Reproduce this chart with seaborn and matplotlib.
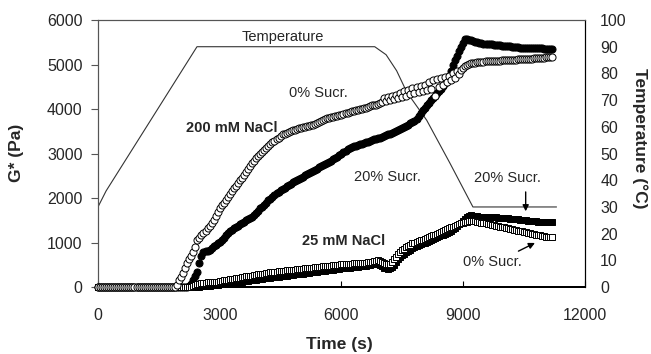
import numpy as np
import pandas as pd
import seaborn as sns
import matplotlib.pyplot as plt

# measurement times (s), one reading every 50 s
time_s = list(range(0, 11250, 50))

# 200 mM NaCl, 0 % sucrose (open circles)
g_200_0 = [0] * 38 + [10, 40] + [
    150, 230, 320, 430, 540, 630, 700, 780, 900, 1050,
    1110, 1170, 1220, 1270, 1320, 1380, 1430, 1510, 1590, 1680,
    1770, 1840, 1900, 1960, 2020, 2090, 2150, 2220, 2280, 2340,
    2400, 2460, 2520, 2590, 2650, 2720, 2780, 2840, 2900, 2950,
    3000, 3040, 3080, 3130, 3170, 3210, 3250, 3290, 3320, 3360,
    3400, 3430, 3450, 3470, 3490, 3510, 3520, 3540, 3550, 3570,
    3580, 3590, 3600, 3610, 3620, 3640, 3650, 3670, 3690, 3710,
    3730, 3750, 3770, 3790, 3800, 3810, 3820, 3840, 3850, 3860,
    3870, 3890, 3900, 3920, 3930, 3950, 3960, 3970, 3980, 3990,
    4000, 4020, 4030, 4050, 4060, 4080, 4090, 4100, 4120, 4130,
    4150, 4250, 4180, 4280, 4200, 4300, 4230, 4320, 4250, 4350,
    4280, 4400, 4300, 4430, 4330, 4480, 4350, 4500, 4380, 4520,
    4400, 4550, 4420, 4600, 4450, 4650, 4300, 4680, 4500, 4700,
    4550, 4720, 4600, 4750, 4650, 4800, 4700, 4850, 4780, 4880,
    4920, 4960, 4990, 5010, 5030, 5040, 5040, 5050, 5050, 5060,
    5060, 5070, 5070, 5080, 5080, 5080, 5080, 5090, 5090, 5100,
    5100, 5100, 5100, 5105, 5110, 5110, 5110, 5115, 5120, 5120,
    5120, 5125, 5130, 5130, 5135, 5140, 5140, 5140, 5145, 5150,
    5155, 5160, 5165, 5170, 5170]

# 200 mM NaCl, 20 % sucrose (filled circles)
g_200_20 = [0] * 44 + [
    0, 20, 60, 150, 250, 340, 540, 700, 780, 800,
    810, 830, 870, 920, 950, 980, 1010, 1060, 1110, 1160,
    1210, 1250, 1280, 1320, 1350, 1380, 1420, 1450, 1470, 1500,
    1520, 1550, 1570, 1620, 1670, 1720, 1770, 1810, 1850, 1900,
    1950, 1990, 2030, 2070, 2110, 2140, 2170, 2200, 2230, 2260,
    2290, 2320, 2350, 2380, 2400, 2430, 2450, 2480, 2510, 2530,
    2560, 2590, 2610, 2640, 2660, 2690, 2710, 2740, 2770, 2790,
    2820, 2840, 2870, 2900, 2930, 2960, 2990, 3030, 3060, 3100,
    3130, 3150, 3170, 3180, 3200, 3210, 3220, 3240, 3250, 3270,
    3280, 3300, 3320, 3330, 3340, 3360, 3380, 3400, 3420, 3430,
    3450, 3470, 3490, 3510, 3530, 3550, 3570, 3600, 3620, 3650,
    3680, 3700, 3720, 3780, 3850, 3920, 3980, 4030, 4080, 4140,
    4200, 4250, 4300, 4350, 4400, 4460, 4520, 4580, 4650, 4750,
    4850, 4980, 5100, 5200, 5300, 5400, 5480, 5580, 5570, 5550,
    5540, 5520, 5510, 5500, 5490, 5480, 5470, 5465, 5460, 5455,
    5450, 5445, 5440, 5435, 5430, 5425, 5420, 5415, 5410, 5405,
    5400, 5395, 5390, 5385, 5380, 5380, 5375, 5375, 5370, 5370,
    5365, 5365, 5360, 5360, 5360, 5360, 5355, 5355, 5350, 5350,
    5350]

# 25 mM NaCl, 0 % sucrose (open squares)
g_25_0 = [0] * 47 + [20, 40, 60] + [
    80, 90, 95, 100, 105, 110, 110, 115, 120, 125,
    130, 140, 150, 160, 170, 180, 185, 190, 195, 200,
    210, 220, 230, 240, 250, 255, 260, 270, 280, 290,
    295, 300, 305, 310, 320, 330, 340, 345, 350, 355,
    360, 365, 370, 375, 380, 385, 390, 395, 400, 405,
    410, 415, 420, 425, 430, 435, 440, 445, 450, 455,
    460, 465, 470, 475, 480, 485, 490, 495, 500, 505,
    510, 515, 520, 520, 525, 530, 535, 540, 540, 545,
    545, 550, 550, 555, 560, 570, 580, 590, 600, 590,
    570, 540, 520, 510, 520, 560, 620, 680, 740, 790,
    830, 860, 890, 920, 950, 980, 1000, 1020, 1040, 1050,
    1060, 1080, 1100, 1120, 1140, 1160, 1180, 1200, 1220, 1240,
    1260, 1280, 1300, 1320, 1340, 1360, 1380, 1400, 1420, 1440,
    1450, 1460, 1470, 1475, 1480, 1480, 1475, 1470, 1460, 1450,
    1440, 1430, 1420, 1410, 1400, 1390, 1380, 1370, 1360, 1350,
    1340, 1330, 1320, 1310, 1300, 1290, 1280, 1270, 1260, 1250,
    1240, 1230, 1220, 1210, 1200, 1190, 1180, 1170, 1160, 1150,
    1140, 1135, 1130, 1125, 1120]

# 25 mM NaCl, 20 % sucrose (filled squares)
g_25_20 = [0] * 50 + [
    10, 15, 20, 25, 30, 35, 40, 45, 50, 55,
    60, 65, 70, 75, 80, 90, 95, 100, 110, 115,
    120, 125, 130, 140, 145, 150, 155, 165, 170, 175,
    180, 185, 195, 200, 205, 210, 220, 225, 230, 235,
    240, 250, 255, 260, 265, 270, 280, 285, 290, 295,
    300, 305, 310, 320, 325, 330, 335, 340, 350, 355,
    360, 365, 370, 380, 385, 390, 395, 400, 410, 415,
    420, 425, 430, 435, 440, 445, 450, 455, 460, 465,
    470, 475, 480, 490, 500, 510, 520, 530, 520, 500,
    470, 440, 420, 410, 420, 450, 500, 560, 620, 680,
    720, 750, 780, 810, 840, 870, 900, 920, 940, 960,
    980, 1000, 1020, 1040, 1060, 1080, 1100, 1120, 1140, 1160,
    1180, 1200, 1220, 1240, 1270, 1300, 1330, 1370, 1410, 1450,
    1490, 1530, 1570, 1600, 1610, 1600, 1595, 1590, 1585, 1580,
    1580, 1575, 1575, 1570, 1570, 1565, 1565, 1560, 1560, 1555,
    1550, 1550, 1545, 1540, 1535, 1530, 1525, 1520, 1515, 1510,
    1505, 1500, 1495, 1490, 1485, 1480, 1475, 1470, 1470, 1465,
    1465, 1460, 1460, 1460, 1460]

# temperature programme
temp_time = [0, 100, 200, 2440, 6820, 7100, 7360, 7610, 8100, 8670, 9240, 11300]
temp_c = [30, 33, 36, 90, 90, 87, 81, 73, 62.5, 46.5, 30, 30]

for s in (g_200_0, g_200_20, g_25_0, g_25_20):
    assert len(s) == len(time_s), len(s)

sns.set_style("ticks")
plt.rcParams['font.family'] = ['Liberation Sans', 'DejaVu Sans']

fig = plt.figure(figsize=(6.51, 3.54), dpi=100)
ax = fig.add_axes([0.1505, 0.189, 0.748, 0.7545])
ax2 = ax.twinx()
ax.set_zorder(ax2.get_zorder() + 1)
ax.patch.set_visible(False)

sns.lineplot(x=temp_time, y=temp_c, ax=ax2, color='#333333', lw=0.8)

styles = [
    (g_25_20, 's', 'black', 20),
    (g_200_20, 'o', 'black', 26),
    (g_25_0, 's', 'white', 20),
    (g_200_0, 'o', 'white', 26),
]
for vals, mk, fc, size in styles:
    sns.scatterplot(x=time_s, y=vals, ax=ax, marker=mk, s=size,
                    facecolor=fc, edgecolor='black', linewidth=0.7,
                    clip_on=False, zorder=3)

ax.set_xlim(0, 12000)
ax.set_ylim(0, 6000)
ax2.set_ylim(0, 100)
ax.set_xticks([0, 3000, 6000, 9000, 12000])
ax.set_yticks(range(0, 6001, 1000))
ax2.set_yticks(range(0, 101, 10))

ax.tick_params(axis='x', direction='in', length=4, pad=15, labelsize=11.5, color='black')
ax.tick_params(axis='y', direction='out', length=5, pad=6, labelsize=11.5, color='#555555')
ax2.tick_params(axis='y', length=0, pad=11, labelsize=11.5)
ax.set_xlabel('')
ax.set_ylabel('')
ax2.set_ylabel('')

for a in (ax, ax2):
    a.spines['top'].set_color('#555555')
    a.spines['left'].set_color('#555555')
    a.spines['right'].set_color('black')
    a.spines['bottom'].set_color('black')
    a.spines['bottom'].set_linewidth(1.4)
    a.spines['top'].set_linewidth(0.8)
    a.spines['right'].set_linewidth(0.8)

txt = dict(fontsize=10.5, ha='center', va='center')
ax.text(4560, 5620, 'Temperature', **txt)
ax.text(5420, 4360, '0% Sucr.', **txt)
ax.text(3300, 3570, '200 mM NaCl', fontweight='bold', **txt)
ax.text(7140, 2470, '20% Sucr.', **txt)
ax.text(10100, 2450, '20% Sucr.', **txt)
ax.text(6060, 1030, '25 mM NaCl', fontweight='bold', **txt)
ax.text(9730, 560, '0% Sucr.', **txt)

arrow = dict(arrowstyle='-|>', color='black', lw=1, mutation_scale=9)
ax.annotate('', xy=(10540, 1640), xytext=(10540, 2200), arrowprops=arrow)
ax.annotate('', xy=(10830, 1020), xytext=(10300, 780), arrowprops=arrow)

fig.text(17 / 651, 1 - 153 / 354, 'G* (Pa)', rotation=90, fontsize=12.5,
         fontweight='bold', ha='center', va='center')
fig.text(640 / 651, 1 - 138 / 354, 'Temperature (°C)', rotation=-90, fontsize=12.5,
         fontweight='bold', ha='center', va='center')
fig.text(339 / 651, 1 - 345 / 354, 'Time (s)', fontsize=12.5,
         fontweight='bold', ha='center', va='center')

fig.savefig('out.png', dpi=100)
